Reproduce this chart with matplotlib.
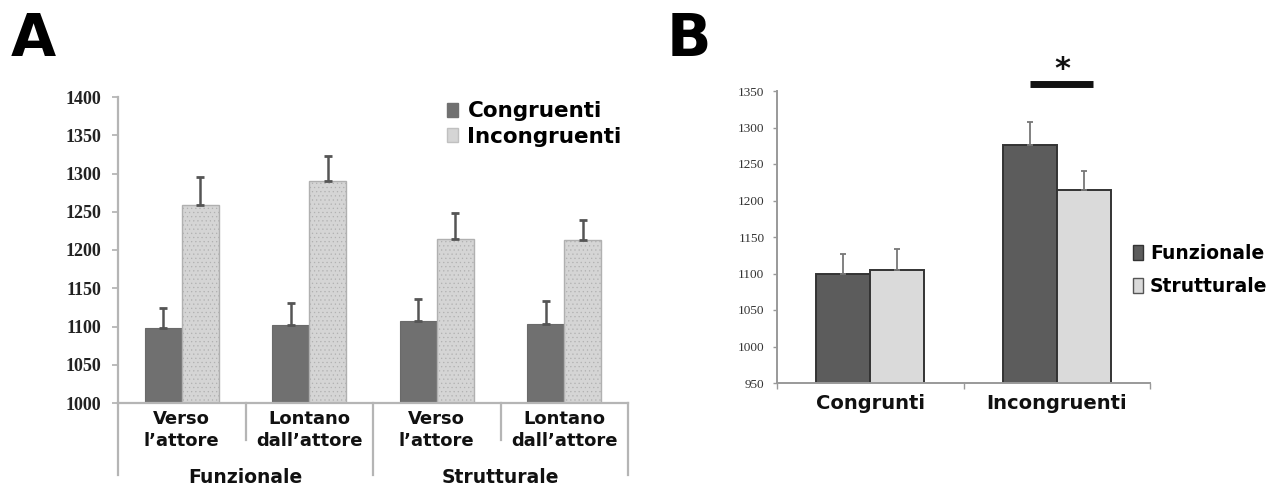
import matplotlib
matplotlib.use("Agg")
import matplotlib.pyplot as plt
import numpy as np
from matplotlib.patches import Patch
from matplotlib.transforms import blended_transform_factory

# ---------------- data ----------------
# Panel A
a_categories = ["Verso\nl\u2019attore", "Lontano\ndall\u2019attore", "Verso\nl\u2019attore", "Lontano\ndall\u2019attore"]
a_groups = ["Funzionale", "Strutturale"]
a_congruenti = [1098, 1102, 1107, 1103]
a_congruenti_err = [26, 29, 29, 30]
a_incongruenti = [1259, 1290, 1215, 1213]
a_incongruenti_err = [37, 33, 34, 26]
a_yticks = [1000, 1050, 1100, 1150, 1200, 1250, 1300, 1350, 1400]

# Panel B
b_categories = ["Congrunti", "Incongruenti"]
b_funzionale = [1100, 1276]
b_funzionale_err = [27, 32]
b_strutturale = [1105, 1215]
b_strutturale_err = [28, 26]
b_yticks = [950, 1000, 1050, 1100, 1150, 1200, 1250, 1300, 1350]

W, H = 1277, 492
fig = plt.figure(figsize=(W / 100, H / 100), dpi=100)
fig.patch.set_facecolor("white")
plt.rcParams["hatch.linewidth"] = 0.4


def px_axes(left, right, top, bottom):
    return fig.add_axes([left / W, 1 - bottom / H, (right - left) / W, (bottom - top) / H])


# ---------------- Panel A ----------------
axA = px_axes(118, 628, 97, 403)
x = np.arange(len(a_categories))
bw = 0.29
off = 0.145
axA.bar(x - off, a_congruenti, bw, color="#707070", edgecolor="#6a6a6a", linewidth=0.8, zorder=2)
axA.bar(x + off, a_incongruenti, bw, color="#d5d5d5", edgecolor="#b0b0b0", linewidth=1.0,
        hatch="....", zorder=2)
axA.errorbar(x - off, a_congruenti, yerr=[np.zeros(4), a_congruenti_err], fmt="none",
             ecolor="#555555", elinewidth=1.8, capsize=3, capthick=2, zorder=3)
axA.errorbar(x + off, a_incongruenti, yerr=[np.zeros(4), a_incongruenti_err], fmt="none",
             ecolor="#555555", elinewidth=1.8, capsize=3, capthick=2, zorder=3)
axA.set_ylim(1000, 1400)
axA.set_xlim(-0.5, len(a_categories) - 0.5)
axA.set_yticks(a_yticks)
axA.set_yticklabels([str(v) for v in a_yticks], fontfamily="Liberation Serif",
                    fontweight="bold", fontsize=13, color="#222222")
axA.tick_params(axis="y", length=4, width=1.2, color="#b0b0b0", pad=8)
axA.set_xticks([])
for s in ["top", "right"]:
    axA.spines[s].set_visible(False)
for s in ["left", "bottom"]:
    axA.spines[s].set_color("#b5b5b5")
    axA.spines[s].set_linewidth(1.6)

trA = blended_transform_factory(axA.transData, axA.transAxes)
for xs in [0.5, 2.5]:
    axA.plot([xs, xs], [0, -0.12], transform=trA, color="#b5b5b5", lw=1.6, clip_on=False)
for xs in [-0.5, 1.5, 3.5]:
    axA.plot([xs, xs], [0, -0.235], transform=trA, color="#b5b5b5", lw=1.6, clip_on=False)
for xi, lab in zip(x, a_categories):
    axA.text(xi, -0.088, lab, transform=trA, ha="center", va="center", fontsize=13,
             fontweight="bold", fontfamily="DejaVu Sans", linespacing=1.25, color="#111111")
for gi, g in enumerate(a_groups):
    axA.text(0.5 + 2 * gi, -0.245, g, transform=trA, ha="center", va="center", fontsize=13.5,
             fontweight="bold", fontfamily="DejaVu Sans", color="#111111")

hA = [Patch(facecolor="#707070", edgecolor="#707070"),
      Patch(facecolor="#d5d5d5", edgecolor="#c0c0c0")]
axA.legend(hA, ["Congruenti", "Incongruenti"], loc="center left",
           bbox_to_anchor=(447 / W, 1 - 124 / H), bbox_transform=fig.transFigure,
           frameon=False, borderpad=0, borderaxespad=0, handlelength=0.5, handleheight=0.6,
           handletextpad=0.45, labelspacing=0.25,
           prop={"family": "DejaVu Sans", "weight": "bold", "size": 15.5})

fig.text(11 / W, 1 - 39 / H, "A", fontsize=42, fontweight="bold", fontfamily="DejaVu Sans",
         va="center", ha="left")

# ---------------- Panel B ----------------
axB = px_axes(777, 1150, 91, 383)
xb = np.arange(len(b_categories))
axB.bar(xb - off, b_funzionale, bw, color="#5c5c5c", edgecolor="#333333", linewidth=1.4, zorder=2)
axB.bar(xb + off, b_strutturale, bw, color="#dadada", edgecolor="#333333", linewidth=1.4, zorder=2)
axB.errorbar(xb - off, b_funzionale, yerr=[np.zeros(2), b_funzionale_err], fmt="none",
             ecolor="#777777", elinewidth=1.3, capsize=2.5, capthick=1.3, zorder=3)
axB.errorbar(xb + off, b_strutturale, yerr=[np.zeros(2), b_strutturale_err], fmt="none",
             ecolor="#777777", elinewidth=1.3, capsize=2.5, capthick=1.3, zorder=3)
axB.set_ylim(950, 1350)
axB.set_xlim(-0.5, len(b_categories) - 0.5)
axB.set_yticks(b_yticks)
axB.set_yticklabels([str(v) for v in b_yticks], fontfamily="Liberation Serif",
                    fontsize=9.5, color="#333333")
axB.tick_params(axis="y", length=3, width=1, color="#999999", pad=6)
axB.set_xticks([-0.5, 0.5, 1.5])
axB.set_xticklabels([])
axB.tick_params(axis="x", length=4, width=1, color="#999999", direction="out")
for s in ["top", "right"]:
    axB.spines[s].set_visible(False)
for s in ["left", "bottom"]:
    axB.spines[s].set_color("#999999")
    axB.spines[s].set_linewidth(1.4)
trB = blended_transform_factory(axB.transData, axB.transAxes)
for xi, lab in zip(xb, b_categories):
    axB.text(xi, -0.07, lab, transform=trB, ha="center", va="center", fontsize=14,
             fontweight="bold", fontfamily="DejaVu Sans", color="#111111")

# significance marker between the two Incongruenti bars
trBx = blended_transform_factory(axB.transData, fig.transFigure)
axB.plot([0.857, 1.194], [1 - 84 / H, 1 - 84 / H], transform=trBx, color="#111111", lw=5,
         clip_on=False, solid_capstyle="butt")
axB.text(1.028, 1 - 70 / H, "*", transform=trBx, ha="center", va="center", fontsize=22,
         fontweight="bold", fontfamily="DejaVu Sans", color="#111111")

hB = [Patch(facecolor="#5c5c5c", edgecolor="#333333"),
      Patch(facecolor="#dadada", edgecolor="#555555")]
axB.legend(hB, ["Funzionale", "Strutturale"], loc="center left",
           bbox_to_anchor=(1133 / W, 1 - 270 / H), bbox_transform=fig.transFigure,
           frameon=False, borderpad=0, borderaxespad=0, handlelength=0.55, handleheight=0.85,
           handletextpad=0.35, labelspacing=0.7,
           prop={"family": "DejaVu Sans", "weight": "bold", "size": 13.5})

fig.text(667 / W, 1 - 39 / H, "B", fontsize=42, fontweight="bold", fontfamily="DejaVu Sans",
         va="center", ha="left")

fig.savefig("out.png", dpi=100, facecolor="white")
